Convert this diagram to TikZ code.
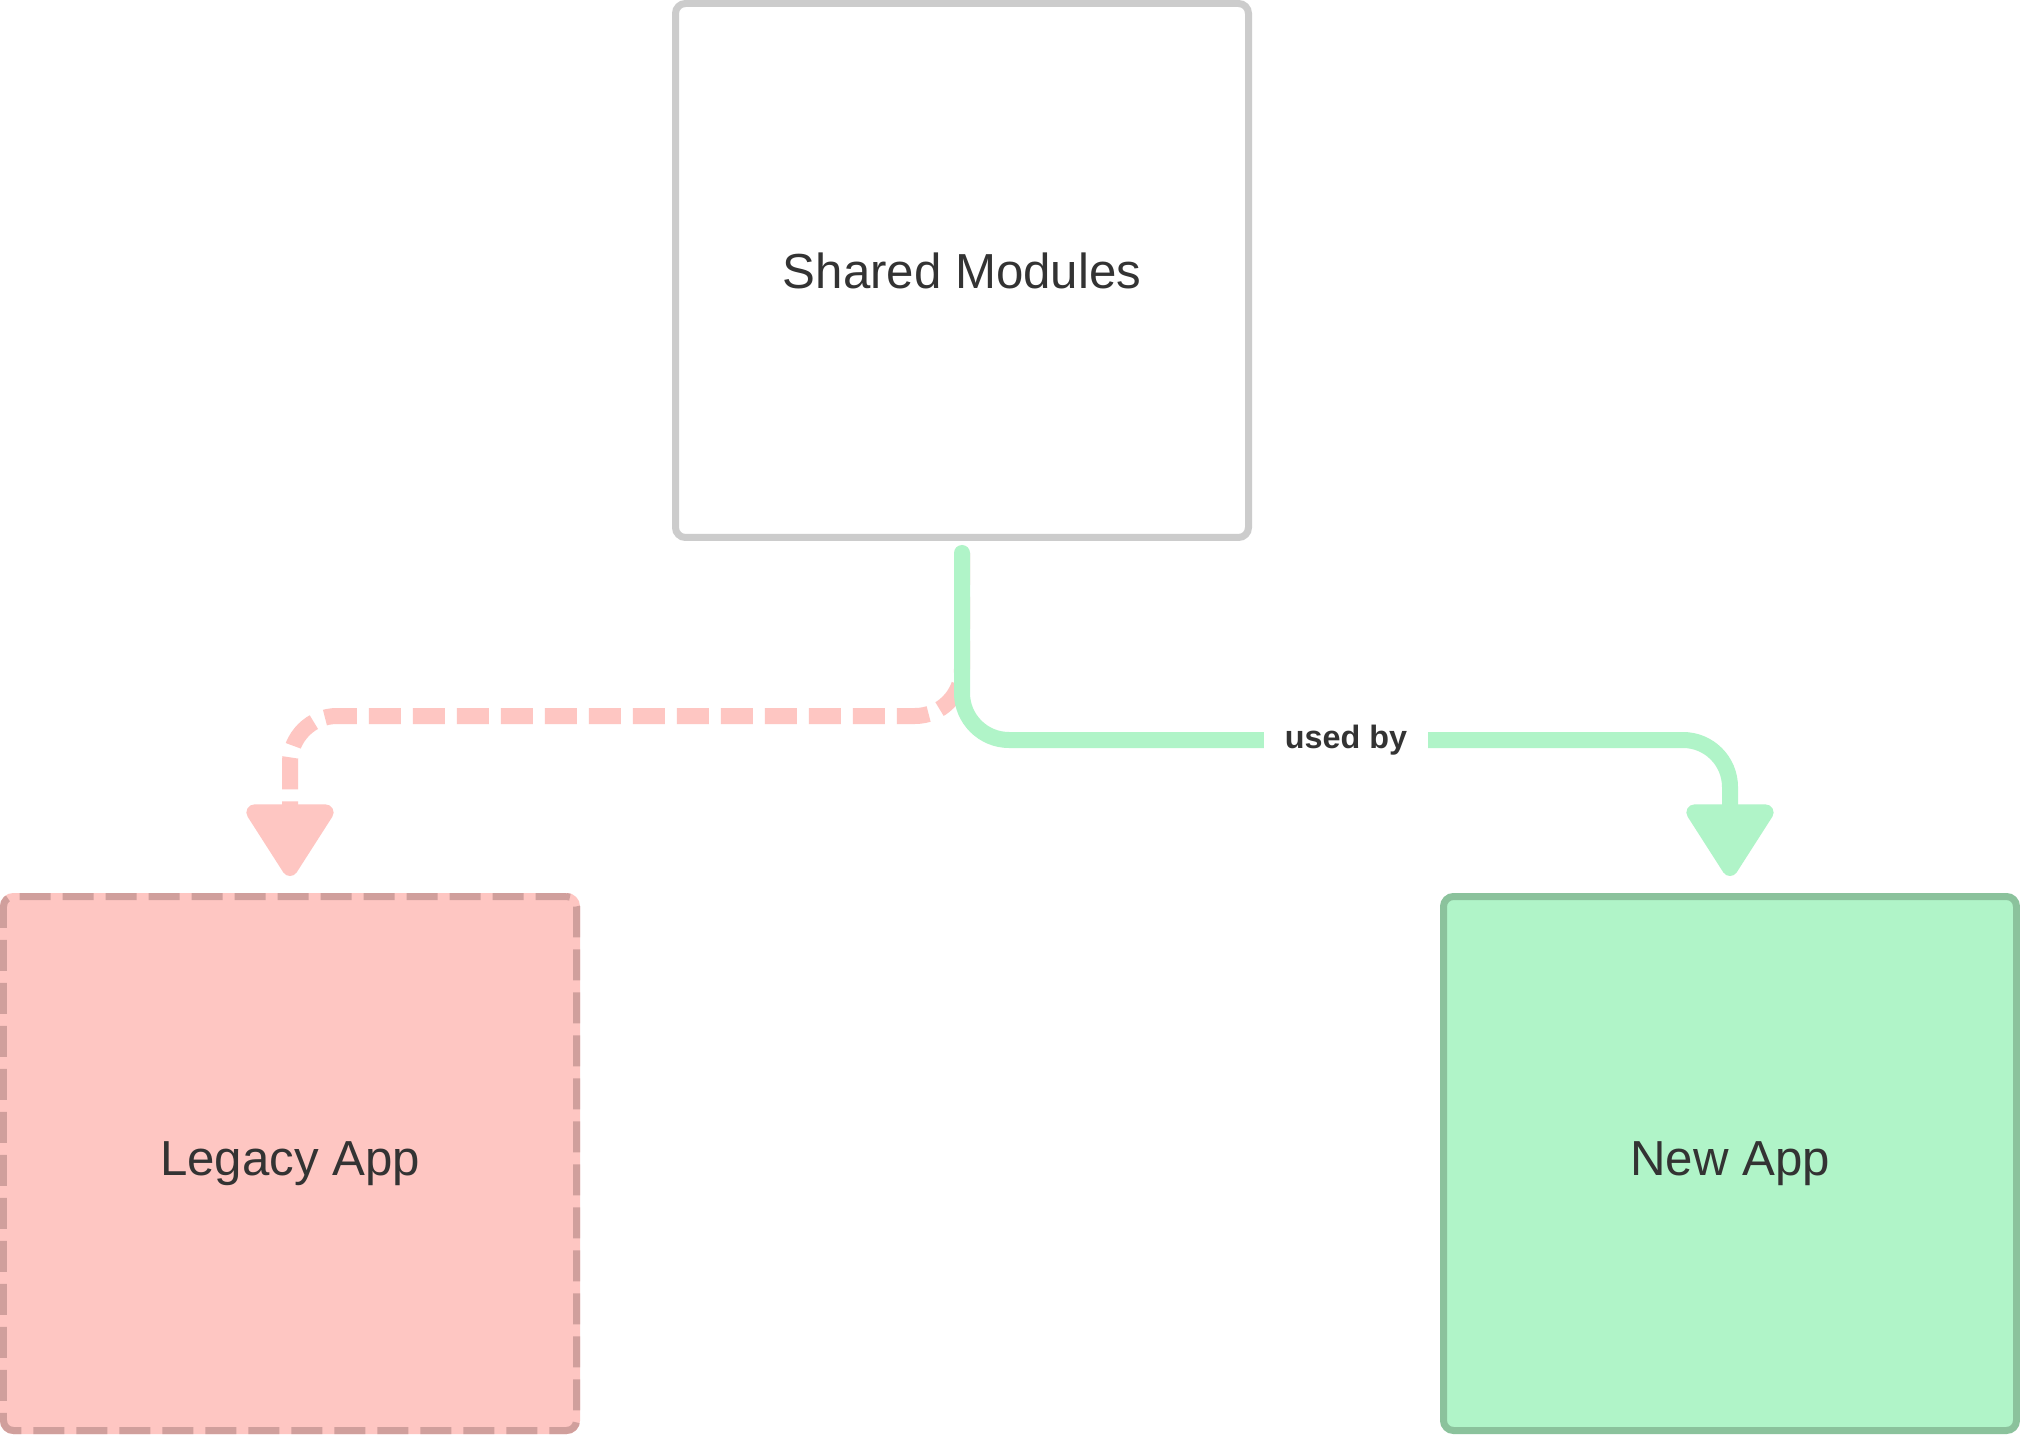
\documentclass[tikz,border=0pt]{standalone}
\usepackage{fontspec}
\setmainfont{Liberation Sans}
\usepackage{tikz}
\usetikzlibrary{arrows.meta, positioning, calc}
\definecolor{shared-grey}{RGB}{204,204,204}
\definecolor{text-dark}{RGB}{51,51,51}
\definecolor{legacy-fill}{RGB}{254,198,194}
\definecolor{legacy-line}{RGB}{208,159,156}
\definecolor{new-fill}{RGB}{176,244,200}
\definecolor{new-line}{RGB}{139,194,156}

\begin{document}
\begin{tikzpicture}[
    module/.style={rectangle, draw, line width=0.07cm, minimum width=5.73cm, minimum height=5.34cm, rounded corners=0.1cm, text=text-dark, font=\fontsize{14pt}{17pt}\selectfont},
    link/.style={line width=0.16cm, -{Triangle[length=0.79cm, width=0.96cm, round]}, rounded corners=0.47cm},
    linklabel/.style={fill=white, sharp corners, text=text-dark, inner xsep=0.21cm, font=\bfseries\fontsize{9.2pt}{11pt}\selectfont}
]
\path[use as bounding box, fill=white] (0,0) rectangle (20.2,-14.35);

% Shared modules
\node[module, draw=shared-grey, fill=white] (shared) at (9.62,-2.705) {Shared Modules};

% Apps
\node[module, draw=legacy-line, fill=legacy-fill, dash pattern=on 0.31cm off 0.12cm, preaction={draw=legacy-fill, solid}, below left=3.52cm and 0.92cm of shared] (legacy) {Legacy App};
\node[module, draw=new-line, fill=new-fill, below right=3.52cm and 1.88cm of shared] (newapp) {New App};

% Arrows
\draw[link, legacy-fill, dash pattern=on 0.32cm off 0.12cm] ([yshift=-0.12cm]shared.south) |- ([yshift=1.77cm]legacy.north) -- ([yshift=0.17cm]legacy.north);
\draw[link, new-fill, line cap=round] ([yshift=-0.12cm]shared.south) |- node[pos=0.75, linklabel] {used by} ([yshift=1.53cm]newapp.north) -- ([yshift=0.17cm]newapp.north);

\end{tikzpicture}
\end{document}
